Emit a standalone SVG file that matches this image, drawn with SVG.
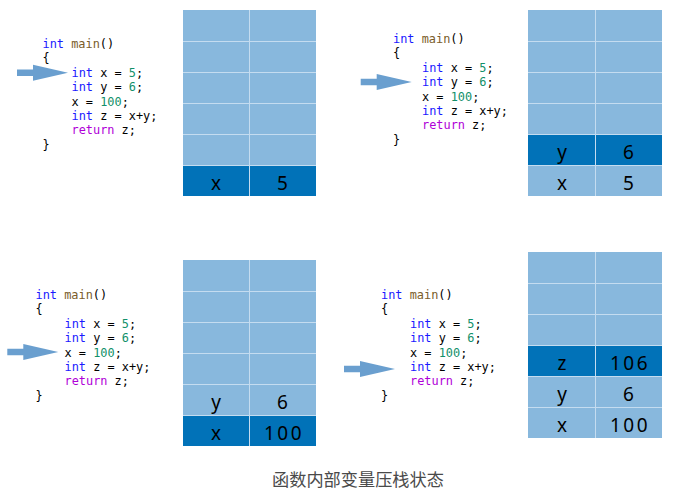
<svg xmlns="http://www.w3.org/2000/svg" width="681" height="493" viewBox="0 0 681 493">
<style>
.code{font-family:"DejaVu Sans Mono","Liberation Mono",monospace;font-size:11.9px;fill:#000}
.kw{fill:#1a1aff}.fn{fill:#7a5d2a}.num{fill:#12906a}.ret{fill:#b000d8}
.light{fill:#88b8dd}.dark{fill:#0172b8}
.grid{stroke:#c4dcf0;stroke-width:1;fill:none}
.cell{font-family:"Noto Sans","DejaVu Sans",sans-serif;font-size:19px;fill:#000;text-anchor:middle}
.arrow{fill:#6a9fcf}
.cap{font-family:"Noto Sans CJK SC","Noto Sans",sans-serif;font-size:17.2px;fill:#4a4a4a;text-anchor:middle}
</style>
<defs>
<path id="arr" d="M-51,-3.3 L-35,-3.3 L-35,-8 L0,0 L-35,8 L-35,3.3 L-51,3.3 Z"/>
<g id="code">
<text class="code" x="0" y="0" xml:space="preserve"><tspan class="kw">int</tspan> <tspan class="fn">main</tspan>()</text>
<text class="code" x="0" y="14.4">{</text>
<text class="code" x="29" y="28.8" xml:space="preserve"><tspan class="kw">int</tspan> x = <tspan class="num">5</tspan>;</text>
<text class="code" x="29" y="43.2" xml:space="preserve"><tspan class="kw">int</tspan> y = <tspan class="num">6</tspan>;</text>
<text class="code" x="29" y="57.6" xml:space="preserve">x = <tspan class="num">100</tspan>;</text>
<text class="code" x="29" y="72" xml:space="preserve"><tspan class="kw">int</tspan> z = x+y;</text>
<text class="code" x="29" y="86.4" xml:space="preserve"><tspan class="ret">return</tspan> z;</text>
<text class="code" x="0" y="100.8">}</text>
</g>
</defs>

<g id="panel1-code" transform="translate(42.5,48)"><use href="#code"/></g>
<g id="panel2-code" transform="translate(393,43)"><use href="#code"/></g>
<g id="panel3-code" transform="translate(35.5,299)"><use href="#code"/></g>
<g id="panel4-code" transform="translate(381,299)"><use href="#code"/></g>

<g id="arrows" class="arrow">
<use href="#arr" transform="translate(68,72.7)"/>
<use href="#arr" transform="translate(411.7,82)"/>
<use href="#arr" transform="translate(58.3,352)"/>
<use href="#arr" transform="translate(395,369)"/>
</g>

<g id="stack1">
<rect class="light" x="183" y="10" width="133" height="186"/>
<rect class="dark" x="183" y="165" width="133" height="31"/>
<path class="grid" d="M249.5,10V196M183,41.5H316M183,72.5H316M183,103.5H316M183,134.5H316M183,165.5H316"/>
<text class="cell" x="216" y="190">x</text>
<text class="cell" x="282.5" y="190">5</text>
</g>

<g id="stack2">
<rect class="light" x="528" y="10" width="134" height="186"/>
<rect class="dark" x="528" y="134" width="134" height="31"/>
<path class="grid" d="M595.5,10V196M528,41.5H662M528,72.5H662M528,103.5H662M528,134.5H662M528,165.5H662"/>
<text class="cell" x="562" y="159">y</text>
<text class="cell" x="628.5" y="159">6</text>
<text class="cell" x="562" y="190">x</text>
<text class="cell" x="628.5" y="190">5</text>
</g>

<g id="stack3">
<rect class="light" x="183" y="260" width="133" height="186"/>
<rect class="dark" x="183" y="415" width="133" height="31"/>
<path class="grid" d="M249.5,260V446M183,291.5H316M183,322.5H316M183,353.5H316M183,384.5H316M183,415.5H316"/>
<text class="cell" x="216" y="409">y</text>
<text class="cell" x="282.5" y="409">6</text>
<text class="cell" x="216" y="440">x</text>
<text class="cell" x="284" y="440" letter-spacing="2.5">100</text>
</g>

<g id="stack4">
<rect class="light" x="528" y="252" width="134" height="186"/>
<rect class="dark" x="528" y="345" width="134" height="31"/>
<path class="grid" d="M595.5,252V438M528,283.5H662M528,314.5H662M528,345.5H662M528,376.5H662M528,407.5H662"/>
<text class="cell" x="562" y="370">z</text>
<text class="cell" x="630" y="370" letter-spacing="2.5">106</text>
<text class="cell" x="562" y="401">y</text>
<text class="cell" x="628.5" y="401">6</text>
<text class="cell" x="562" y="432">x</text>
<text class="cell" x="630" y="432" letter-spacing="2.5">100</text>
</g>

<text class="cap" x="358" y="486">函数内部变量压栈状态</text>
</svg>
